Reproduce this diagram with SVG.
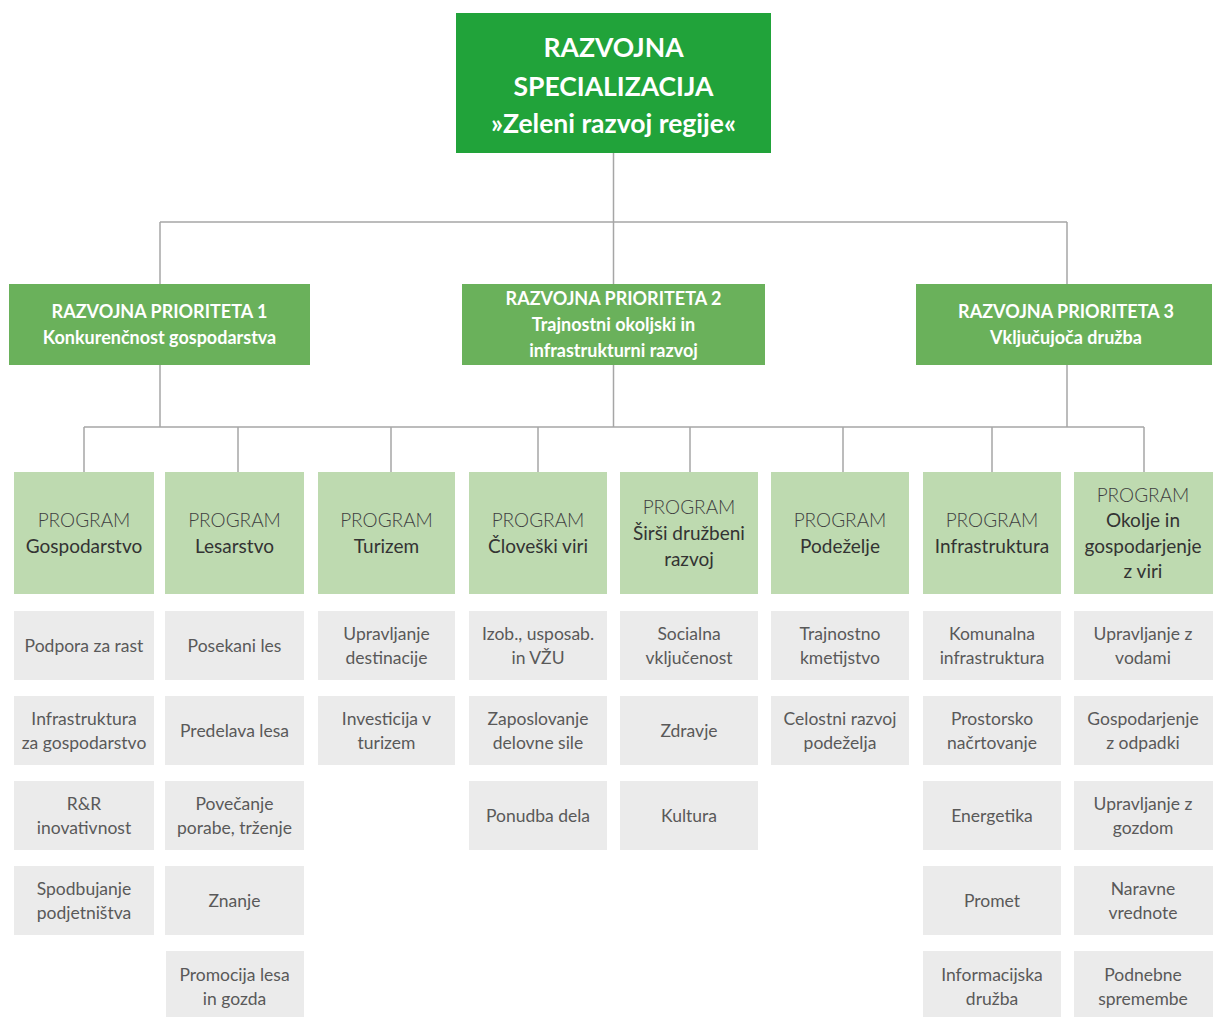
<svg xmlns="http://www.w3.org/2000/svg" width="1213" height="1017" viewBox="0 0 1213 1017">
<style>
.top{fill:#21A33A}
.pri{fill:#6AB15B}
.prg{fill:#BEDAB0}
.it{fill:#EBEBEB}
.tt{font-family:Lato,"Open Sans","Liberation Sans",sans-serif;font-weight:700;font-size:26.5px;fill:#fff;text-anchor:middle}
.pt{font-family:Lato,"Open Sans","Liberation Sans",sans-serif;font-weight:700;font-size:18px;fill:#fff;text-anchor:middle}
.gt{font-family:Lato,"Open Sans","Liberation Sans",sans-serif;font-size:19px;fill:#333;text-anchor:middle}
.gl{font-weight:300;fill:#404040}
.it-t{font-family:Lato,"Open Sans","Liberation Sans",sans-serif;font-weight:400;font-size:17.5px;fill:#595959;text-anchor:middle}
.con{stroke:#A6A6A6;stroke-width:1.5;fill:none}
</style>
<rect width="1213" height="1017" fill="#fff"/>
<g id="connectors" class="con">
<path d="M613.5 153V222M160 222H1067M160 222V284M613.5 222V284M1067 222V284"/>
<path d="M160 365V427M613.5 365V427M1067 365V427M84 427H1144"/>
<path d="M84 427V472M238 427V472M391 427V472M538 427V472M690 427V472M843 427V472M992 427V472M1144 427V472"/>
</g>
<g id="root"><rect class="top" x="456" y="13" width="315" height="140"/>
<text class="tt" x="613.5" y="57">RAZVOJNA</text>
<text class="tt" x="613.5" y="96">SPECIALIZACIJA</text>
<text class="tt" x="613.5" y="133">»Zeleni razvoj regije«</text></g>
<g id="p1"><rect class="pri" x="9" y="284" width="301" height="81"/>
<text class="pt" x="159.5" y="318">RAZVOJNA PRIORITETA 1</text>
<text class="pt" x="159.5" y="344">Konkurenčnost gospodarstva</text></g>
<g id="p2"><rect class="pri" x="462" y="284" width="303" height="81"/>
<text class="pt" x="613.5" y="305">RAZVOJNA PRIORITETA 2</text>
<text class="pt" x="613.5" y="331">Trajnostni okoljski in</text>
<text class="pt" x="613.5" y="357">infrastrukturni razvoj</text></g>
<g id="p3"><rect class="pri" x="916" y="284" width="296" height="81"/>
<text class="pt" x="1066" y="318">RAZVOJNA PRIORITETA 3</text>
<text class="pt" x="1066" y="344">Vključujoča družba</text></g>

<g id="prog1"><rect class="prg" x="14" y="472" width="140" height="122"/>
<text class="gt gl" x="84" y="527">PROGRAM</text><text class="gt" x="84" y="553">Gospodarstvo</text></g>
<g id="prog2"><rect class="prg" x="165" y="472" width="139" height="122"/>
<text class="gt gl" x="234.5" y="527">PROGRAM</text><text class="gt" x="234.5" y="553">Lesarstvo</text></g>
<g id="prog3"><rect class="prg" x="318" y="472" width="137" height="122"/>
<text class="gt gl" x="386.5" y="527">PROGRAM</text><text class="gt" x="386.5" y="553">Turizem</text></g>
<g id="prog4"><rect class="prg" x="469" y="472" width="138" height="122"/>
<text class="gt gl" x="538" y="527">PROGRAM</text><text class="gt" x="538" y="553">Človeški viri</text></g>
<g id="prog5"><rect class="prg" x="620" y="472" width="138" height="122"/>
<text class="gt gl" x="689" y="514">PROGRAM</text><text class="gt" x="689" y="540">Širši družbeni</text><text class="gt" x="689" y="566">razvoj</text></g>
<g id="prog6"><rect class="prg" x="771" y="472" width="138" height="122"/>
<text class="gt gl" x="840" y="527">PROGRAM</text><text class="gt" x="840" y="553">Podeželje</text></g>
<g id="prog7"><rect class="prg" x="923" y="472" width="138" height="122"/>
<text class="gt gl" x="992" y="527">PROGRAM</text><text class="gt" x="992" y="553">Infrastruktura</text></g>
<g id="prog8"><rect class="prg" x="1074" y="472" width="139" height="122"/>
<text class="gt gl" x="1143" y="502">PROGRAM</text><text class="gt" x="1143" y="527">Okolje in</text><text class="gt" x="1143" y="553">gospodarjenje</text><text class="gt" x="1143" y="578">z viri</text></g>

<!-- column 1 -->
<g id="c1r1"><rect class="it" x="14" y="611" width="140" height="69"/><text class="it-t" x="84" y="652">Podpora za rast</text></g>
<g id="c1r2"><rect class="it" x="14" y="696" width="140" height="69"/><text class="it-t" x="84" y="725">Infrastruktura</text><text class="it-t" x="84" y="749">za gospodarstvo</text></g>
<g id="c1r3"><rect class="it" x="14" y="781" width="140" height="69"/><text class="it-t" x="84" y="810">R&amp;R</text><text class="it-t" x="84" y="834">inovativnost</text></g>
<g id="c1r4"><rect class="it" x="14" y="866" width="140" height="69"/><text class="it-t" x="84" y="895">Spodbujanje</text><text class="it-t" x="84" y="919">podjetništva</text></g>
<!-- column 2 -->
<g id="c2r1"><rect class="it" x="165" y="611" width="139" height="69"/><text class="it-t" x="234.5" y="652">Posekani les</text></g>
<g id="c2r2"><rect class="it" x="165" y="696" width="139" height="69"/><text class="it-t" x="234.5" y="737">Predelava lesa</text></g>
<g id="c2r3"><rect class="it" x="165" y="781" width="139" height="69"/><text class="it-t" x="234.5" y="810">Povečanje</text><text class="it-t" x="234.5" y="834">porabe, trženje</text></g>
<g id="c2r4"><rect class="it" x="165" y="866" width="139" height="69"/><text class="it-t" x="234.5" y="907">Znanje</text></g>
<g id="c2r5"><rect class="it" x="166" y="951" width="138" height="66"/><text class="it-t" x="234.5" y="981">Promocija lesa</text><text class="it-t" x="234.5" y="1005">in gozda</text></g>
<!-- column 3 -->
<g id="c3r1"><rect class="it" x="318" y="611" width="137" height="69"/><text class="it-t" x="386.5" y="640">Upravljanje</text><text class="it-t" x="386.5" y="664">destinacije</text></g>
<g id="c3r2"><rect class="it" x="318" y="696" width="137" height="69"/><text class="it-t" x="386.5" y="725">Investicija v</text><text class="it-t" x="386.5" y="749">turizem</text></g>
<!-- column 4 -->
<g id="c4r1"><rect class="it" x="469" y="611" width="138" height="69"/><text class="it-t" x="538" y="640">Izob., usposab.</text><text class="it-t" x="538" y="664">in VŽU</text></g>
<g id="c4r2"><rect class="it" x="469" y="696" width="138" height="69"/><text class="it-t" x="538" y="725">Zaposlovanje</text><text class="it-t" x="538" y="749">delovne sile</text></g>
<g id="c4r3"><rect class="it" x="469" y="781" width="138" height="69"/><text class="it-t" x="538" y="822">Ponudba dela</text></g>
<!-- column 5 -->
<g id="c5r1"><rect class="it" x="620" y="611" width="138" height="69"/><text class="it-t" x="689" y="640">Socialna</text><text class="it-t" x="689" y="664">vključenost</text></g>
<g id="c5r2"><rect class="it" x="620" y="696" width="138" height="69"/><text class="it-t" x="689" y="737">Zdravje</text></g>
<g id="c5r3"><rect class="it" x="620" y="781" width="138" height="69"/><text class="it-t" x="689" y="822">Kultura</text></g>
<!-- column 6 -->
<g id="c6r1"><rect class="it" x="771" y="611" width="138" height="69"/><text class="it-t" x="840" y="640">Trajnostno</text><text class="it-t" x="840" y="664">kmetijstvo</text></g>
<g id="c6r2"><rect class="it" x="771" y="696" width="138" height="69"/><text class="it-t" x="840" y="725">Celostni razvoj</text><text class="it-t" x="840" y="749">podeželja</text></g>
<!-- column 7 -->
<g id="c7r1"><rect class="it" x="923" y="611" width="138" height="69"/><text class="it-t" x="992" y="640">Komunalna</text><text class="it-t" x="992" y="664">infrastruktura</text></g>
<g id="c7r2"><rect class="it" x="923" y="696" width="138" height="69"/><text class="it-t" x="992" y="725">Prostorsko</text><text class="it-t" x="992" y="749">načrtovanje</text></g>
<g id="c7r3"><rect class="it" x="923" y="781" width="138" height="69"/><text class="it-t" x="992" y="822">Energetika</text></g>
<g id="c7r4"><rect class="it" x="923" y="866" width="138" height="69"/><text class="it-t" x="992" y="907">Promet</text></g>
<g id="c7r5"><rect class="it" x="923" y="951" width="138" height="66"/><text class="it-t" x="992" y="981">Informacijska</text><text class="it-t" x="992" y="1005">družba</text></g>
<!-- column 8 -->
<g id="c8r1"><rect class="it" x="1074" y="611" width="139" height="69"/><text class="it-t" x="1143" y="640">Upravljanje z</text><text class="it-t" x="1143" y="664">vodami</text></g>
<g id="c8r2"><rect class="it" x="1074" y="696" width="139" height="69"/><text class="it-t" x="1143" y="725">Gospodarjenje</text><text class="it-t" x="1143" y="749">z odpadki</text></g>
<g id="c8r3"><rect class="it" x="1074" y="781" width="139" height="69"/><text class="it-t" x="1143" y="810">Upravljanje z</text><text class="it-t" x="1143" y="834">gozdom</text></g>
<g id="c8r4"><rect class="it" x="1074" y="866" width="139" height="69"/><text class="it-t" x="1143" y="895">Naravne</text><text class="it-t" x="1143" y="919">vrednote</text></g>
<g id="c8r5"><rect class="it" x="1074" y="951" width="139" height="66"/><text class="it-t" x="1143" y="981">Podnebne</text><text class="it-t" x="1143" y="1005">spremembe</text></g>
</svg>
